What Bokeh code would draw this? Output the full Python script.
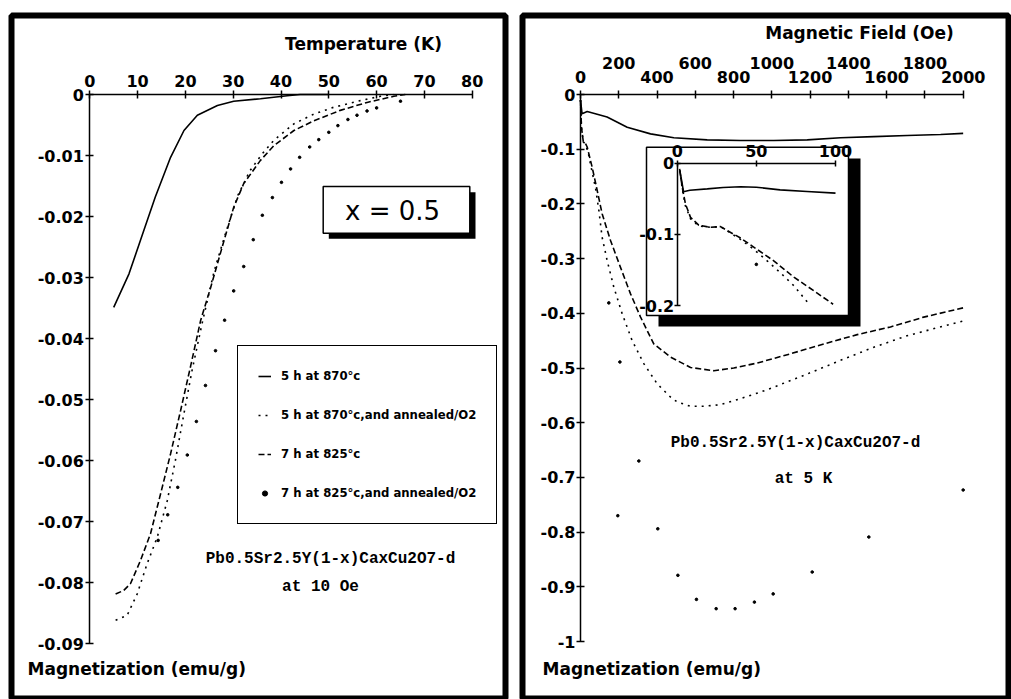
from bokeh.plotting import figure
from bokeh.models import (Range1d, LinearAxis, FixedTicker, CustomJSTickFormatter,
                          Label, Legend, LegendItem)
from bokeh.layouts import row
from bokeh.embed import file_html
from bokeh.resources import INLINE

# ---------------- data: left panel (M vs T at 10 Oe) ----------------
T_TICKS = [0, 10, 20, 30, 40, 50, 60, 70, 80]
M_TICKS_L = [0, -0.01, -0.02, -0.03, -0.04, -0.05, -0.06, -0.07, -0.08, -0.09]

t_870 = [5, 8.2, 10.6, 13.7, 16.9, 19.7, 22.5, 26.7, 30.1, 35.7, 41.3, 44, 50]
m_870 = [-0.0349, -0.0294, -0.0239, -0.0168, -0.0103, -0.0059, -0.0034, -0.0018,
         -0.0011, -0.0007, -0.0002, 0.0, 0.0]

t_870_o2 = [5.4, 7.8, 9.9, 12, 14.1, 16.2, 17.9, 19.7, 21.4, 23.5, 26, 28.5, 31,
            33.5, 36, 38.5, 42.7, 46.9, 51, 56.6, 60.8, 63.5]
m_870_o2 = [-0.0862, -0.0854, -0.0819, -0.0769, -0.0726, -0.0666, -0.06, -0.0523,
            -0.0452, -0.0375, -0.029, -0.0225, -0.0165, -0.0125, -0.0098, -0.0075,
            -0.0048, -0.0032, -0.0021, -0.001, -0.0003, 0.0]

t_825 = [5.4, 7.1, 8.5, 10.6, 12.7, 14.8, 16.9, 19, 21.1, 23.2, 25.3, 28.1, 30.1,
         32.2, 35.7, 38.5, 42.7, 46.9, 52.4, 58, 63.6, 66]
m_825 = [-0.0819, -0.0813, -0.0802, -0.0764, -0.072, -0.0655, -0.0589, -0.0518,
         -0.0445, -0.037, -0.0316, -0.0239, -0.0185, -0.0146, -0.0108, -0.0084,
         -0.0059, -0.0043, -0.0026, -0.0013, -0.0003, 0.0]

t_825_o2 = [14.3, 16.3, 18.4, 20.4, 22.3, 24.2, 26.3, 28.2, 30.1, 32.2, 34.2, 36.1,
            38.2, 40.1, 42, 43.9, 46, 47.9, 50, 51.9, 54, 55.9, 58, 60, 65]
m_825_o2 = [-0.0731, -0.0689, -0.0644, -0.0591, -0.0536, -0.0477, -0.042, -0.037,
            -0.0322, -0.0282, -0.0238, -0.0198, -0.0169, -0.0144, -0.0122, -0.0103,
            -0.0086, -0.0074, -0.0062, -0.0051, -0.0041, -0.0034, -0.0027, -0.0022,
            -0.0011]

# ---------------- data: right panel (M vs H at 5 K) ----------------
H_TICKS = [0, 200, 400, 600, 800, 1000, 1200, 1400, 1600, 1800, 2000]
H_TICKS_UPPER = [200, 600, 1000, 1400, 1800]
M_TICKS_R = [0, -0.1, -0.2, -0.3, -0.4, -0.5, -0.6, -0.7, -0.8, -0.9, -1.0]

h_870 = [0, 8, 35, 139, 244, 366, 488, 662, 836, 1010, 1185, 1359, 1533, 1707, 1882, 2000]
mh_870 = [-0.01, -0.035, -0.031, -0.041, -0.06, -0.072, -0.079, -0.083, -0.084, -0.084,
          -0.083, -0.079, -0.077, -0.075, -0.073, -0.071]

h_870_o2 = [0, 5, 15, 25, 40, 52, 78, 96, 113, 139, 174, 218, 270, 331, 401, 470, 505,
            575, 644, 732, 836, 941, 1010, 1185, 1359, 1533, 1707, 2000]
mh_870_o2 = [-0.01, -0.06, -0.087, -0.09, -0.106, -0.127, -0.17, -0.212, -0.261, -0.303,
             -0.352, -0.401, -0.45, -0.492, -0.529, -0.553, -0.562, -0.57, -0.57, -0.567,
             -0.556, -0.544, -0.535, -0.511, -0.486, -0.462, -0.441, -0.414]

h_825 = [0, 5, 15, 25, 35, 61, 87, 113, 157, 209, 261, 314, 383, 470, 575, 697, 801, 923,
         1098, 1272, 1446, 1620, 1794, 2000]
mh_825 = [-0.01, -0.06, -0.087, -0.089, -0.096, -0.133, -0.175, -0.218, -0.267, -0.316,
          -0.364, -0.407, -0.456, -0.48, -0.499, -0.505, -0.5, -0.491, -0.474, -0.456,
          -0.439, -0.425, -0.407, -0.39]

h_825_o2 = [148, 195, 206, 305, 404, 509, 606, 709, 808, 909, 1007, 1211, 1507, 2000]
mh_825_o2 = [-0.381, -0.77, -0.489, -0.67, -0.794, -0.879, -0.923, -0.94, -0.94, -0.928,
             -0.913, -0.873, -0.809, -0.723]

# ---------------- data: inset (low field, 0-100 Oe) ----------------
IN_H_TICKS = [0, 50, 100]
IN_M_TICKS = [0, -0.1, -0.2]

ih_870 = [1.5, 4, 8, 19, 29, 40, 50, 65, 82, 100]
im_870 = [-0.008, -0.04, -0.038, -0.036, -0.034, -0.033, -0.0337, -0.0374, -0.0397, -0.042]

ih_825 = [1.6, 3.2, 5.2, 8.4, 13.6, 21, 27.4, 31.6, 40, 50.5, 61, 73.7, 86.3, 98.5]
im_825 = [-0.01, -0.034, -0.057, -0.076, -0.087, -0.09, -0.089, -0.0945, -0.105, -0.121,
          -0.137, -0.16, -0.179, -0.198]

ih_870_o2 = [1.6, 3.2, 5.2, 8.4, 13.6, 21, 27.4, 31.6, 40, 48.4, 56.8, 65.3, 73.7, 83]
im_870_o2 = [-0.01, -0.036, -0.06, -0.078, -0.088, -0.09, -0.089, -0.095, -0.107, -0.121,
             -0.137, -0.154, -0.172, -0.197]

ih_825_o2 = [50]
im_825_o2 = [-0.142]

LABELS = ["5 h at 870°c", "5 h at 870°c,and annealed/O2",
          "7 h at 825°c", "7 h at 825°c,and annealed/O2"]

# ---------------- layout constants (canvas pixels) ----------------
CW, CH = 1011, 699
LW = 513
RW = CW - LW
TICK_FONT = "DejaVu Sans"
DOT = "2 5"
DASH = "6 3"
DOT_SIZE = 2.6


def lin(px0, scale):
    """map pixel->data for px = px0 + scale*value"""
    return lambda px: (px - px0) / scale


def make_fig(x0, w, FL, FR, FT, FB, fx, fy):
    p = figure(width=w, height=CH,
               x_range=Range1d(fx(FL), fx(FR)), y_range=Range1d(fy(FB), fy(FT)),
               output_backend="svg", toolbar_location=None,
               x_axis_location=None, y_axis_location=None,
               min_border_left=FL - x0, min_border_right=x0 + w - FR,
               min_border_top=FT, min_border_bottom=CH - FB,
               outline_line_color="black", outline_line_width=6,
               background_fill_color="white", border_fill_color="white")
    p.xgrid.visible = False
    p.ygrid.visible = False
    p.extra_x_ranges = {"px": Range1d(FL, FR)}
    p.extra_y_ranges = {"py": Range1d(FB, FT)}
    return p


def style_axis(ax, tin=4, tout=4, standoff=2):
    ax.axis_line_width = 1.5
    ax.axis_line_color = "black"
    ax.major_tick_line_width = 1.5
    ax.major_tick_line_color = "black"
    ax.major_tick_in = tin
    ax.major_tick_out = tout
    ax.minor_tick_line_color = None
    ax.major_label_standoff = standoff
    ax.major_label_text_font = TICK_FONT
    ax.major_label_text_font_style = "bold"
    ax.major_label_text_font_size = "16px"
    ax.major_label_text_color = "black"


def add_text(p, x, y, text, font, size, style="bold", align="center"):
    p.add_layout(Label(x=x, y=y, x_range_name="px", y_range_name="py", text=text,
                       text_font=font, text_font_size=size, text_font_style=style,
                       text_align=align, text_baseline="middle", text_color="black"))


def fmt(dec):
    return CustomJSTickFormatter(code=f"""
        if (Math.abs(tick) < 1e-12) return "0";
        if (Math.abs(tick - Math.round(tick)) < 1e-9) return Math.round(tick).toString();
        return tick.toFixed({dec});
    """)


HAS_BG = "major_label_background_fill_color" in LinearAxis.properties()

# ================= LEFT PANEL =================
p1 = make_fig(0, LW, 11, 505, 15, CH, lin(89.3, 4.78), lambda py: (94 - py) / 6100.0)

r1 = p1.line(t_870, m_870, line_width=1.6, color="black")
r2 = p1.line(t_870_o2, m_870_o2, line_width=1.6, color="black", line_dash=DOT)
r3 = p1.line(t_825, m_825, line_width=1.6, color="black", line_dash=DASH)
r4 = p1.scatter(t_825_o2, m_825_o2, size=DOT_SIZE, color="black")

ax = LinearAxis(fixed_location=0, bounds=(0, 80), ticker=FixedTicker(ticks=T_TICKS))
style_axis(ax, 4, 4, 4)
p1.add_layout(ax, "above")
ay = LinearAxis(fixed_location=0, bounds=(-0.09, 0), ticker=FixedTicker(ticks=M_TICKS_L),
                formatter=fmt(2))
style_axis(ay, 4, 4, 2)
p1.add_layout(ay, "left")

# x = 0.5 box with shadow
p1.quad(left=328.3, right=475, top=191.7, bottom=238.3, x_range_name="px", y_range_name="py",
        fill_color="black", line_color=None)
p1.quad(left=322.7, right=469.3, top=186, bottom=232.7, x_range_name="px", y_range_name="py",
        fill_color="white", line_color="black", line_width=1.5)
add_text(p1, 392, 210, "x = 0.5", "DejaVu Sans", "26px", style="normal")

add_text(p1, 363, 43, "Temperature (K)", "DejaVu Sans", "17px")
add_text(p1, 27, 668, "Magnetization (emu/g)", "DejaVu Sans", "17px", align="left")
add_text(p1, 330, 558, "Pb0.5Sr2.5Y(1-x)CaxCu2O7-d", "Liberation Mono", "16px")
add_text(p1, 320, 586, "at 10 Oe", "Liberation Mono", "16px")

legend = Legend(items=[LegendItem(label=LABELS[0], renderers=[r1]),
                       LegendItem(label=LABELS[1], renderers=[r2]),
                       LegendItem(label=LABELS[2], renderers=[r3]),
                       LegendItem(label=LABELS[3], renderers=[r4])],
                location=(237 - 11, CH - 524))
legend.border_line_color = "black"
legend.border_line_alpha = 1.0
legend.border_line_width = 1.5
legend.background_fill_color = "white"
legend.background_fill_alpha = 1.0
legend.label_text_font = "DejaVu Sans"
legend.label_text_font_style = "bold"
legend.label_text_font_size = "11.7px"
legend.label_text_color = "black"
legend.glyph_width = 13
legend.glyph_height = 20
legend.label_height = 20
legend.label_standoff = 10
legend.spacing = 19
legend.padding = 20
legend.margin = 0
p1.add_layout(legend, "center")

# ================= RIGHT PANEL =================
RFL, RFR = 522, 1008
p2 = make_fig(LW, RW, RFL, RFR, 15, CH, lin(580, 0.19133), lambda py: (94 - py) / 547.0)

# inset ranges: px = 676.7 + 1.583*h ; py = 162.7 - 712.5*m
finx = lin(676.7, 1.583)
finy = lambda py: (162.7 - py) / 712.5
p2.extra_x_ranges["inx"] = Range1d(finx(RFL), finx(RFR))
p2.extra_y_ranges["iny"] = Range1d(finy(CH), finy(15))

p2.line(h_870, mh_870, line_width=1.6, color="black")
p2.line(h_870_o2, mh_870_o2, line_width=1.6, color="black", line_dash=DOT)
p2.line(h_825, mh_825, line_width=1.6, color="black", line_dash=DASH)
p2.scatter(h_825_o2, mh_825_o2, size=DOT_SIZE, color="black")

bx = LinearAxis(fixed_location=0, bounds=(0, 2000), ticker=FixedTicker(ticks=H_TICKS),
                formatter=CustomJSTickFormatter(code="""
                    const v = Math.round(tick);
                    return (v % 400 == 0) ? v.toString() : "";
                """))
style_axis(bx, 4, 4, 8)
p2.add_layout(bx, "above")
bx2 = LinearAxis(fixed_location=0, ticker=FixedTicker(ticks=H_TICKS_UPPER))
style_axis(bx2, 0, 0, 26)
bx2.axis_line_color = None
bx2.major_tick_line_color = None
p2.add_layout(bx2, "above")
by = LinearAxis(fixed_location=0, bounds=(-1, 0), ticker=FixedTicker(ticks=M_TICKS_R),
                formatter=fmt(1))
style_axis(by, 4, 4, 1)
p2.add_layout(by, "left")

add_text(p2, 859, 32, "Magnetic Field (Oe)", "DejaVu Sans", "17px")
add_text(p2, 542, 668, "Magnetization (emu/g)", "DejaVu Sans", "17px", align="left")
add_text(p2, 795, 442, "Pb0.5Sr2.5Y(1-x)CaxCu2O7-d", "Liberation Mono", "16px")
add_text(p2, 803, 478, "at 5 K", "Liberation Mono", "16px")

# inset box with heavy shadow
p2.quad(left=658, right=860, top=158, bottom=326, x_range_name="px", y_range_name="py",
        fill_color="black", line_color=None)
p2.quad(left=646, right=848, top=146.7, bottom=315, x_range_name="px", y_range_name="py",
        fill_color="white", line_color="black", line_width=1.5)

p2.line(ih_870, im_870, line_width=1.6, color="black", x_range_name="inx", y_range_name="iny")
p2.line(ih_870_o2, im_870_o2, line_width=1.6, color="black", line_dash=DOT,
        x_range_name="inx", y_range_name="iny")
p2.line(ih_825, im_825, line_width=1.6, color="black", line_dash=DASH,
        x_range_name="inx", y_range_name="iny")
p2.scatter(ih_825_o2, im_825_o2, size=DOT_SIZE, color="black", x_range_name="inx",
           y_range_name="iny")

ix = LinearAxis(fixed_location=0, bounds=(0, 100), ticker=FixedTicker(ticks=IN_H_TICKS),
                x_range_name="inx", y_range_name="iny")
style_axis(ix, 3, 3, 3)
iy = LinearAxis(fixed_location=0, bounds=(-0.2, 0), ticker=FixedTicker(ticks=IN_M_TICKS),
                formatter=fmt(1), x_range_name="inx", y_range_name="iny")
style_axis(iy, 3, 3, 0)
if HAS_BG:
    for a in (ix, iy):
        a.major_label_background_fill_color = "white"
p2.add_layout(ix, "above")
p2.add_layout(iy, "left")

layout = row(p1, p2)
open("out.html", "w").write(file_html(layout, INLINE))
